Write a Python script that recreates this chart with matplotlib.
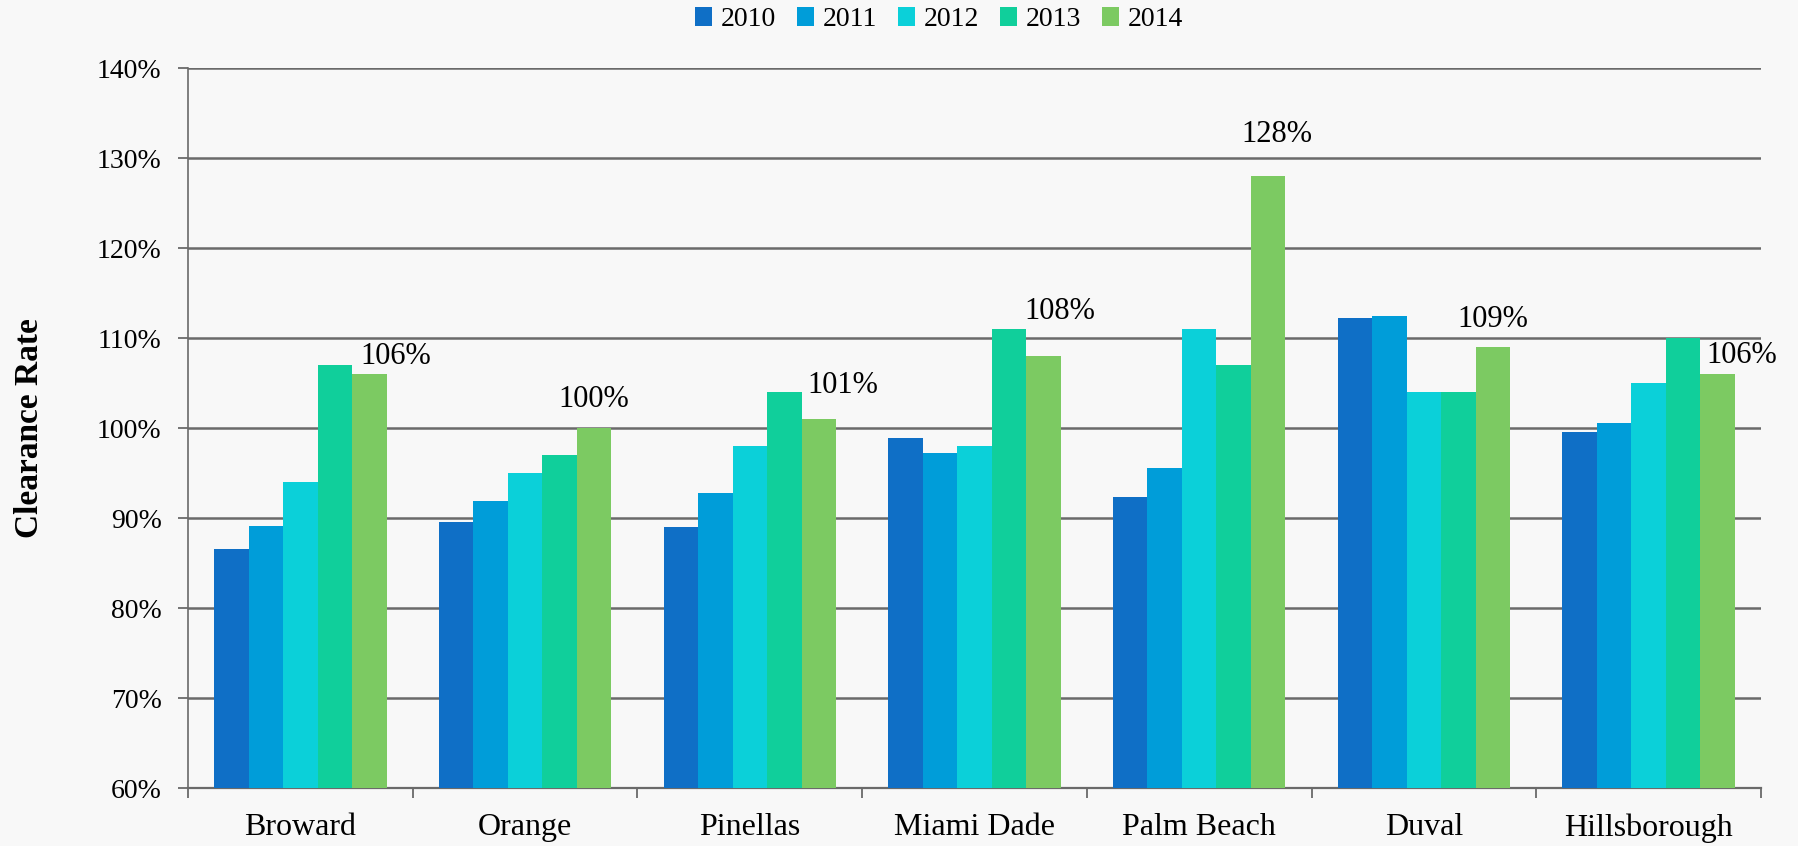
import matplotlib
matplotlib.use("Agg")
import matplotlib.pyplot as plt
import numpy as np

# data
counties = ["Broward", "Orange", "Pinellas", "Miami Dade", "Palm Beach", "Duval", "Hillsborough"]
years = ["2010", "2011", "2012", "2013", "2014"]
rate_2010 = [86.6, 89.5, 89.0, 98.9, 92.3, 112.2, 99.6]
rate_2011 = [89.1, 91.9, 92.8, 97.2, 95.5, 112.4, 100.6]
rate_2012 = [94.0, 95.0, 98.0, 98.0, 111.0, 104.0, 105.0]
rate_2013 = [107.0, 97.0, 104.0, 111.0, 107.0, 104.0, 110.0]
rate_2014 = [106.0, 100.0, 101.0, 108.0, 128.0, 109.0, 106.0]
yticks = [60, 70, 80, 90, 100, 110, 120, 130, 140]

series = [rate_2010, rate_2011, rate_2012, rate_2013, rate_2014]
colors = ["#0F6FC6", "#009DD9", "#0BD0D9", "#10CF9B", "#7CCA62"]

# label nudges (points) to mimic the reference placement
label_dx = [19, 0, 17, 11.5, 6, 0, 17.5]
label_dy = [7, 15, 19, 26.5, 24.5, 14.5, 8]

plt.rcParams['font.family'] = ['Liberation Serif', 'DejaVu Serif']

fig = plt.figure(figsize=(17.99, 8.46), dpi=100)
fig.patch.set_facecolor('#f8f8f8')
ax = fig.add_axes([188 / 1799, 1 - 788 / 846, (1761 - 188) / 1799, 720 / 846])
ax.set_facecolor('#f8f8f8')

x = np.arange(len(counties))
w = 0.1535
for j in range(len(years)):
    ax.bar(x + (j - 2) * w, series[j], w, bottom=0, color=colors[j], label=years[j],
           zorder=3, edgecolor='none')

for i in range(len(counties)):
    ax.annotate("%d%%" % rate_2014[i], xy=(x[i] + 2 * w, rate_2014[i]),
                xytext=(label_dx[i], label_dy[i]), textcoords='offset points',
                ha='center', va='baseline', fontsize=22, zorder=4)

ax.set_ylim(60, 140)
ax.set_xlim(-0.5, len(counties) - 0.5)
ax.set_yticks(yticks)
ax.set_yticklabels(["%d%%" % t for t in yticks], fontsize=20)
ax.yaxis.grid(True, color='#6a6a6a', lw=1.8)
ax.set_axisbelow(True)

ax.set_xticks(x)
ax.set_xticklabels(counties, fontsize=23)
ax.set_xticks(np.arange(-0.5, len(counties), 1.0), minor=True)
ax.tick_params(axis='x', which='major', length=0, pad=18)
ax.tick_params(axis='x', which='minor', length=7, width=1.3, color='#6a6a6a')
ax.tick_params(axis='y', length=7, width=1.3, color='#6a6a6a', pad=12)

for s in ['top', 'right']:
    ax.spines[s].set_visible(False)
ax.spines['left'].set_color('#6a6a6a')
ax.spines['left'].set_linewidth(1.2)
ax.spines['bottom'].set_color('#6a6a6a')
ax.spines['bottom'].set_linewidth(1.6)

ax.set_ylabel("Clearance Rate", fontsize=24, fontweight='bold')
ax.yaxis.set_label_coords(-0.091, 0.5)

fig.legend(loc='center', bbox_to_anchor=(0.522, 0.977), ncol=5, frameon=False,
           fontsize=20, handlelength=0.6, handleheight=0.7, handletextpad=0.33,
           columnspacing=0.75)

fig.savefig("out.png", dpi=100, facecolor=fig.get_facecolor())
